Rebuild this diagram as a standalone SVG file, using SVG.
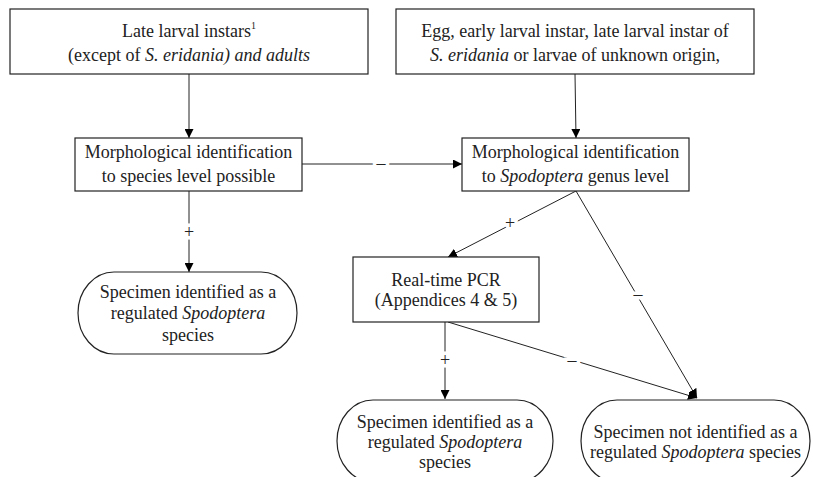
<svg xmlns="http://www.w3.org/2000/svg" width="813" height="477" viewBox="0 0 813 477">
<defs>
<marker id="ah" viewBox="0 0 10 10" refX="10" refY="5" markerWidth="9" markerHeight="9" markerUnits="userSpaceOnUse" orient="auto">
<path d="M0,0 L10,5 L0,10 z" fill="#000"/>
</marker>
<style>
.box{fill:#fff;stroke:#222;stroke-width:1.2}
.c{fill:none;stroke:#222;stroke-width:1;marker-end:url(#ah)}
text{font-family:'Liberation Serif',serif;font-size:18px;fill:#222;text-anchor:middle}
.lbl{font-size:18px;stroke:#fff;stroke-width:7px;paint-order:stroke}
</style>
</defs>
<rect width="813" height="477" fill="#fff"/>
<g id="connectors">
<path class="c" d="M189,74 L189,138"/>
<path class="c" d="M575,74 L576,138"/>
<path class="c" d="M302,164 L462,164"/>
<path class="c" d="M189,191 L189,272"/>
<path class="c" d="M576,191 L448,257"/>
<path class="c" d="M576,191 L697,398"/>
<path class="c" d="M445,322 L445,399"/>
<path class="c" d="M448,322 L697,398"/>
<text class="lbl" x="381" y="169">–</text>
<text class="lbl" x="189" y="238">+</text>
<text class="lbl" x="510" y="229">+</text>
<text class="lbl" x="638" y="300">–</text>
<text class="lbl" x="445" y="366">+</text>
<text class="lbl" x="572" y="366">–</text>
</g>
<g id="n1">
<rect class="box" x="10" y="9" width="358" height="65"/>
<text x="189" y="37">Late larval instars<tspan font-size="10" dy="-8">1</tspan></text>
<text x="189" y="61">(except of <tspan font-style="italic">S. eridania) and adults</tspan></text>
</g>
<g id="n2">
<rect class="box" x="396" y="9" width="358" height="65"/>
<text x="575" y="37">Egg, early larval instar, late larval instar of</text>
<text x="575" y="61"><tspan font-style="italic">S. eridania</tspan> or larvae of unknown origin,</text>
</g>
<g id="n3">
<rect class="box" x="75" y="138" width="227" height="53"/>
<text x="188.5" y="158">Morphological identification</text>
<text x="188.5" y="182">to species level possible</text>
</g>
<g id="n4">
<rect class="box" x="462" y="138" width="227" height="53"/>
<text x="575.5" y="158">Morphological identification</text>
<text x="575.5" y="182">to <tspan font-style="italic">Spodoptera</tspan> genus level</text>
</g>
<g id="n5">
<rect class="box" x="78" y="272" width="219" height="82" rx="36" ry="41"/>
<text x="188" y="298">Specimen identified as a</text>
<text x="188" y="319">regulated <tspan font-style="italic">Spodoptera</tspan></text>
<text x="188" y="341">species</text>
</g>
<g id="n6">
<rect class="box" x="353" y="257" width="186" height="65"/>
<text x="446" y="286">Real-time PCR</text>
<text x="446" y="306">(Appendices 4 &amp; 5)</text>
</g>
<g id="n7">
<rect class="box" x="337" y="400" width="216" height="82" rx="36" ry="41"/>
<text x="445" y="428">Specimen identified as a</text>
<text x="445" y="448">regulated <tspan font-style="italic">Spodoptera</tspan></text>
<text x="445" y="468">species</text>
</g>
<g id="n8">
<rect class="box" x="581" y="400" width="229" height="82" rx="36" ry="41"/>
<text x="695.5" y="438">Specimen not identified as a</text>
<text x="695.5" y="458">regulated <tspan font-style="italic">Spodoptera</tspan> species</text>
</g>
</svg>
